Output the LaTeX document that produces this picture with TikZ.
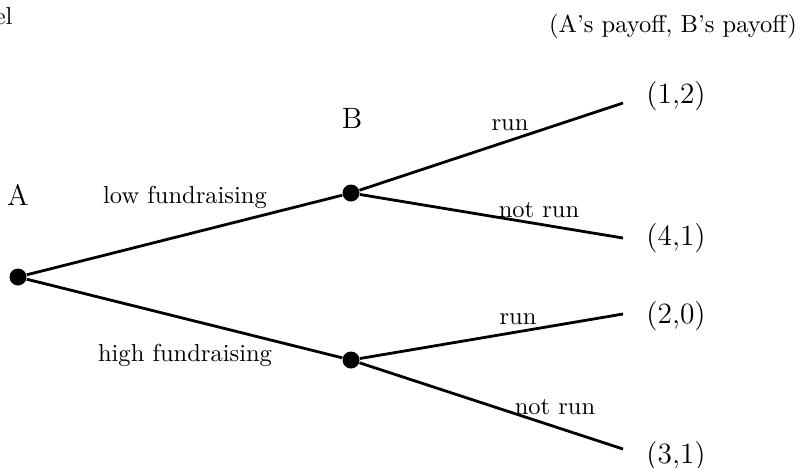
\documentclass[tikz,border=0pt]{standalone}
\newlength{\du}
\setlength{\du}{0.408pt}
\begin{document}
\begin{tikzpicture}[
  dot/.style={circle,fill=black,inner sep=0pt,minimum size=17\du},
  branch/.style={line width=2.8\du},
  payoff/.style={font=\large},
  player/.style={font=\large},
  lbl/.style={inner sep=0pt}]
\pgftransformxscale{1.000000}
\pgftransformyscale{-1.000000}
\useasboundingbox (0\du,0\du) rectangle (800\du,467\du);
% decision nodes
\node[dot] (a) at (18\du,277\du) {};
\node[dot] (b1) at (351\du,193\du) {};
\node[dot] (b2) at (351\du,360\du) {};
% end points
\coordinate (t1) at (623\du,103\du);
\coordinate (t2) at (623\du,238\du);
\coordinate (t3) at (623\du,314\du);
\coordinate (t4) at (623\du,449\du);
\draw[branch] (a) -- (b1);
\draw[branch] (a) -- (b2);
\draw[branch] (b1) -- (t1);
\draw[branch] (b1) -- (t2);
\draw[branch] (b2) -- (t3);
\draw[branch] (b2) -- (t4);
% players
\node[lbl,player] (pa) at (18\du,195\du) {A};
\node[lbl,player] (pb) at (352\du,118\du) {B};
% moves
\node[lbl] (low) at (185\du,197\du) {low fundraising};
\node[lbl] (high) at (185\du,355\du) {high fundraising};
\node[lbl] (run1) at (510\du,125\du) {run};
\node[lbl] (nrun1) at (539\du,210\du) {not run};
\node[lbl] (run2) at (518\du,319\du) {run};
\node[lbl] (nrun2) at (555\du,407\du) {not run};
% payoffs
\node[lbl,payoff] (p1) at (676\du,96\du) {(1,2)};
\node[lbl,payoff] (p2) at (676\du,238\du) {(4,1)};
\node[lbl,payoff] (p3) at (676\du,316\du) {(2,0)};
\node[lbl,payoff] (p4) at (676\du,456\du) {(3,1)};
\node[lbl] (head) at (673\du,26\du) {(A's payoff, B's payoff)};
\node[lbl,anchor=east] (cut) at (13\du,16\du) {el};
\end{tikzpicture}
\end{document}
